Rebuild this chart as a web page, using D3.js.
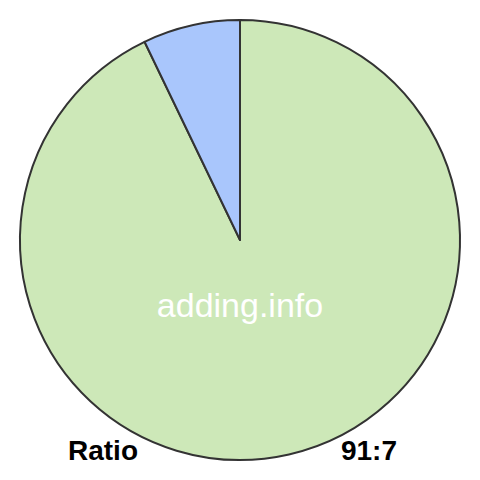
<!DOCTYPE html>
<html><head><meta charset="utf-8">
<script src="https://cdn.jsdelivr.net/npm/d3@7"></script>
<style>html,body{margin:0;padding:0;background:#fff;}</style>
</head><body>
<svg id="c" width="480" height="480"></svg>
<script>
const categories = ["A", "B"];
const values = [91, 7];
const colors = ["#cde8b8", "#a9c6fc"];
const watermark = "adding.info";
const leftLabel = "Ratio";
const rightLabel = "91:7";

const svg = d3.select("#c");
const cx = 240, cy = 240, r = 220;
const pie = d3.pie().sort(null).value(d => d.v);
const arcs = pie(categories.map((c, i) => ({c, v: values[i], col: colors[i]})));
const arc = d3.arc().innerRadius(0).outerRadius(r);
const g = svg.append("g").attr("transform", `translate(${cx},${cy})`);
g.selectAll("path").data(arcs).enter().append("path")
  .attr("d", arc).attr("fill", d => d.data.col)
  .attr("stroke", "#333").attr("stroke-width", 2).attr("stroke-linejoin", "round");

svg.append("text").attr("x", 240).attr("y", 317).attr("text-anchor", "middle")
  .attr("font-family", "Liberation Sans, Arial, sans-serif").attr("font-size", 34)
  .attr("fill", "#fff").text(watermark);
svg.append("text").attr("x", 68).attr("y", 460)
  .attr("font-family", "Liberation Sans, Arial, sans-serif").attr("font-size", 28)
  .attr("font-weight", "bold").attr("fill", "#000").text(leftLabel);
svg.append("text").attr("x", 397).attr("y", 460).attr("text-anchor", "end")
  .attr("font-family", "Liberation Sans, Arial, sans-serif").attr("font-size", 28)
  .attr("font-weight", "bold").attr("fill", "#000").text(rightLabel);
</script>
</body></html>
